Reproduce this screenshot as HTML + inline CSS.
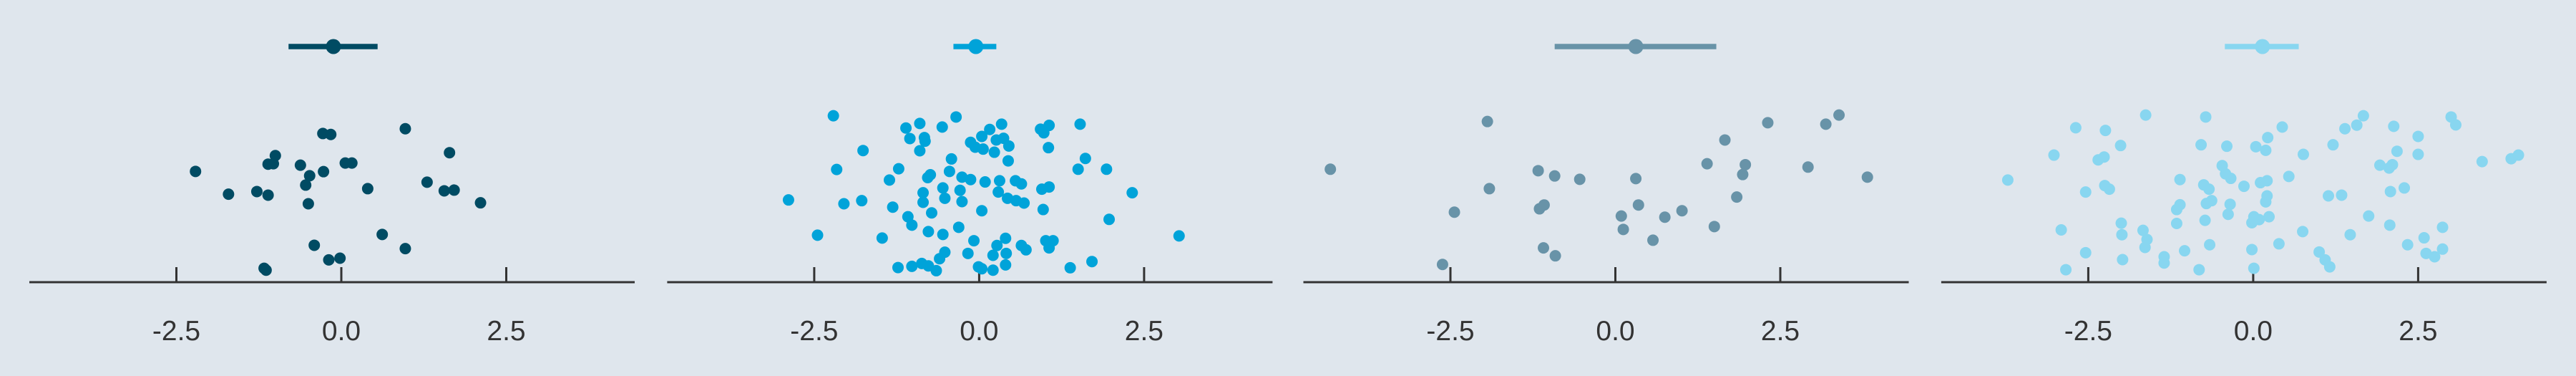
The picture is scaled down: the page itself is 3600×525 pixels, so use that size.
<!DOCTYPE html>
<html><head><meta charset="utf-8"><style>
html,body{margin:0;padding:0;background:#dfe6ed;}
svg{display:block;}
</style></head><body>
<svg id="chart" width="3600" height="525" xmlns="http://www.w3.org/2000/svg">
<rect width="3600" height="525" fill="#dfe6ed"/>
</svg>
<script>
const tickValues = [-2.5, 0, 2.5];
const tickLabels = ["-2.5", "0.0", "2.5"];
const panelColors = ["#004b63", "#00a3d9", "#6893a8", "#88d6f0"];
const panelMeans = [-0.12, -0.05, 0.31, 0.14];
const panelLow = [-0.80, -0.39, -0.92, -0.43];
const panelHigh = [0.55, 0.26, 1.53, 0.69];

const p1x = [0.97,-0.28,-0.16,1.64,-1.00,-1.11,-1.03,-0.62,0.06,0.16,-2.21,-0.27,-0.48,-0.54,1.30,1.56,1.71,0.40,-1.71,-1.28,-1.11,-0.50,2.11,0.62,-0.41,0.97,-0.02,-0.19,-1.17,-1.14];
const p1j = [6.40,6.20,6.16,5.40,5.28,4.92,4.94,4.88,4.97,4.97,4.62,4.61,4.44,4.05,4.17,3.81,3.84,3.90,3.67,3.78,3.63,3.27,3.31,1.99,1.54,1.40,1.00,0.93,0.58,0.50];

const p2x = [-2.21,-0.35,-0.90,-1.11,-0.56,0.34,0.16,1.06,0.93,0.98,1.53,-1.05,-0.83,-0.82,0.04,0.26,0.37,-0.13,-0.06,0.06,0.45,0.23,1.05,-0.90,-1.76,-0.42,0.44,1.61,-2.16,-1.22,1.50,1.93,-0.45,-0.74,-0.78,-1.36,-0.26,-0.13,0.09,0.31,0.55,0.64,-0.55,-0.29,0.95,1.06,-0.85,2.32,0.29,-2.89,-2.05,-1.78,-0.52,-0.26,-0.85,0.43,0.56,0.68,-1.31,0.04,0.97,-0.72,-1.08,-1.02,1.97,-0.31,-2.45,-0.77,-0.55,-1.47,3.03,0.40,-0.08,0.27,1.01,1.12,0.64,0.71,1.06,-0.52,-0.60,-0.17,0.21,0.41,1.71,-1.23,-1.02,-0.87,-0.77,-0.65,-0.01,0.04,0.21,0.40,1.38];
const p2j = [6.94,6.89,6.62,6.43,6.47,6.59,6.37,6.54,6.38,6.23,6.59,5.99,6.03,5.88,6.08,5.93,6.00,5.83,5.63,5.55,5.68,5.42,5.61,5.48,5.49,5.14,5.06,5.16,4.70,4.73,4.71,4.71,4.62,4.48,4.36,4.26,4.38,4.28,4.18,4.23,4.23,4.10,3.93,3.83,3.88,3.97,3.73,3.73,3.76,3.43,3.27,3.40,3.50,3.36,3.33,3.50,3.40,3.30,3.13,2.98,3.03,2.89,2.73,2.38,2.62,2.29,1.96,2.11,1.99,1.84,1.93,1.83,1.73,1.53,1.73,1.73,1.53,1.35,1.43,1.25,0.98,1.20,1.12,1.20,0.86,0.61,0.66,0.78,0.68,0.48,0.64,0.56,0.50,0.72,0.60];

const p3x = [-1.94,2.31,3.19,3.39,1.66,-4.32,-1.17,-0.92,-0.54,0.31,1.39,1.97,1.93,2.92,3.82,-1.91,1.84,-1.08,-1.15,0.35,-2.44,0.09,0.75,1.01,0.12,1.50,0.57,-1.09,-0.91,-2.62];
const p3j = [6.70,6.65,6.59,6.97,5.93,4.71,4.65,4.43,4.29,4.32,4.94,4.90,4.49,4.80,4.38,3.90,3.55,3.22,3.06,3.22,2.92,2.76,2.71,2.98,2.20,2.32,1.75,1.43,1.10,0.74];

const p4x = [-1.63,-0.72,1.67,3.00,3.07,-2.69,-2.24,0.44,1.39,1.57,2.13,2.50,0.22,-2.01,-0.79,-0.40,0.04,0.19,1.21,2.18,2.50,-3.02,-2.26,-2.35,0.76,3.47,3.91,4.02,-0.47,1.92,2.11,2.06,-0.42,-0.34,0.54,-3.72,-1.11,-0.75,-0.67,-0.14,0.11,0.21,-2.25,-2.18,-2.54,2.08,2.29,1.14,1.34,0.21,0.19,-0.63,-0.71,-0.35,-1.11,-1.16,-0.38,0.01,0.09,0.24,-0.02,-0.73,-1.16,-2.00,1.75,2.07,2.87,-2.91,-1.99,-1.67,-1.61,-1.64,0.75,1.47,2.59,-0.66,0.39,2.34,-1.04,-0.02,-2.54,1.00,2.87,2.62,2.75,-1.35,-1.35,-1.98,1.09,1.16,-2.84,-0.82,0.01];
const p4j = [6.97,6.89,6.94,6.89,6.56,6.44,6.33,6.47,6.40,6.55,6.50,6.08,6.03,5.70,5.73,5.67,5.65,5.50,5.73,5.46,5.33,5.30,5.22,5.10,5.33,5.03,5.15,5.30,4.86,4.88,4.90,4.76,4.52,4.33,4.41,4.26,4.28,4.06,3.88,4.00,4.15,4.23,4.03,3.88,3.76,3.78,3.93,3.60,3.63,3.60,3.35,3.40,3.28,3.25,3.23,3.03,2.83,2.73,2.61,2.73,2.48,2.58,2.45,2.46,2.76,2.38,2.29,2.18,1.98,2.16,1.78,1.45,2.11,1.98,1.85,1.56,1.60,1.56,1.31,1.36,1.23,1.26,1.38,1.20,1.06,1.06,0.80,0.94,0.93,0.64,0.52,0.52,0.58];

const panelX = [p1x, p2x, p3x, p4x];
const panelJ = [p1j, p2j, p3j, p4j];

const NS = "http://www.w3.org/2000/svg";
const svg = document.getElementById("chart");
const zeroPx = [477, 1368.4, 2257.5, 3148.9];
const unitPx = 92.2;
const axisY = 394;
function xScale(p, v){ return zeroPx[p] + v * unitPx; }
function yScale(j){ return axisY - j * 33.48; }
function mk(tag, attrs){ const e = document.createElementNS(NS, tag); for (const k in attrs) e.setAttribute(k, attrs[k]); return e; }

for (let p = 0; p < 4; p++) {
  const g = mk("g", {});
  
  
  svg.appendChild(g);
  const axis = mk("line", {x1: zeroPx[p] - 436, x2: zeroPx[p] + 410, y1: axisY, y2: axisY, stroke: "#333333", "stroke-width": 3});
  
  
  g.appendChild(axis);
  for (let t = 0; t < tickValues.length; t++) {
    const x = xScale(p, tickValues[t]);
    const tk = mk("line", {x1: x, x2: x, y1: axisY - 21, y2: axisY, stroke: "#333333", "stroke-width": 3});
    
    
    g.appendChild(tk);
    const lb = mk("text", {x: x, y: 475, "text-anchor": "middle", "font-family": "Liberation Sans, sans-serif", "font-size": 39, fill: "#333333"});
    lb.textContent = tickLabels[t];
    
    
    g.appendChild(lb);
  }
  const col = panelColors[p];
  const xs = panelX[p], js = panelJ[p];
  for (let i = 0; i < xs.length; i++) {
    const c = mk("circle", {cx: xScale(p, xs[i]), cy: yScale(js[i]), r: 8, fill: col});
    
    
    g.appendChild(c);
  }
  const rl = mk("line", {x1: xScale(p, panelLow[p]), x2: xScale(p, panelHigh[p]), y1: 65, y2: 65, stroke: col, "stroke-width": 7.5});
  
  
  g.appendChild(rl);
  const md = mk("circle", {cx: xScale(p, panelMeans[p]), cy: 65, r: 10.5, fill: col});
  
  
  g.appendChild(md);
}
</script>
</body></html>
